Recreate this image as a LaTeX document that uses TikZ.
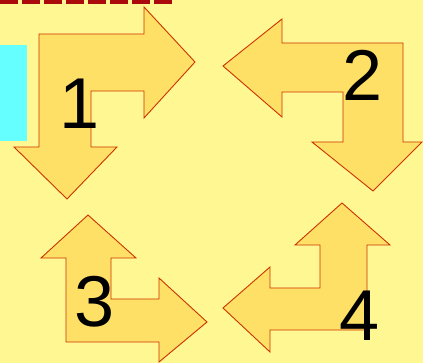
\documentclass[tikz,border=0pt]{standalone}
\usepackage{fontspec}
\setmainfont{Liberation Sans}
\definecolor{bgyellow}{RGB}{255,247,145}
\definecolor{arrowfill}{RGB}{255,224,102}
\definecolor{arrowline}{RGB}{204,51,0}
\definecolor{titlered}{RGB}{170,10,10}
\definecolor{sidecyan}{RGB}{102,255,255}
\usetikzlibrary{positioning}

\tikzset{
  bentarrow/.style={draw=arrowline, fill=arrowfill, line width=0.9pt, line join=miter},
  numlabel/.style={inner sep=0pt, font=\fontsize{72}{72}\selectfont, text=black}
}

\begin{document}
\begin{tikzpicture}[x=1pt, y=-1pt]
  % background and margins
  \fill[bgyellow] (0,0) rectangle (423,363);
  \useasboundingbox (0,0) rectangle (423,363);

  % cut-off title strip and side bar
  \foreach \xs in {0,22,44,66,88,110,132,154}
    \fill[titlered] (\xs,0) rectangle ++(18,4);
  \fill[sidecyan] (0,45) rectangle (27,141);

  % arrow 1: right and down
  \draw[bentarrow] (39,34) -- (144,34) -- (144,7) -- (195,62) -- (144,118) -- (144,91)
    -- (91,91) -- (91,147) -- (117,147) -- (67,199) -- (14,147) -- (39,147) -- cycle;
  % arrow 2: left and down
  \draw[bentarrow] (403,43) -- (282,43) -- (282,19) -- (223,66) -- (282,117) -- (282,92)
    -- (343,92) -- (343,142) -- (312,142) -- (373,191) -- (422,142) -- (403,142) -- cycle;
  % arrow 3: up and right
  \draw[bentarrow] (66,342) -- (66,258) -- (41,258) -- (88,215) -- (136,258) -- (111,258)
    -- (111,299) -- (159,299) -- (159,278) -- (207,322) -- (159,362) -- (159,342) -- cycle;
  % arrow 4: up and left
  \draw[bentarrow] (367,330) -- (367,245) -- (390,245) -- (342,203) -- (295,245) -- (320,245)
    -- (320,288) -- (270,288) -- (270,267) -- (223,308) -- (270,352) -- (270,330) -- cycle;

  % step numbers
  \node[numlabel] (n1) at (80,104) {1};
  \node[numlabel] (n2) at (363,75) {2};
  \node[numlabel] (n3) at (95,302) {3};
  \node[numlabel] (n4) at (360,316) {4};
\end{tikzpicture}
\end{document}
